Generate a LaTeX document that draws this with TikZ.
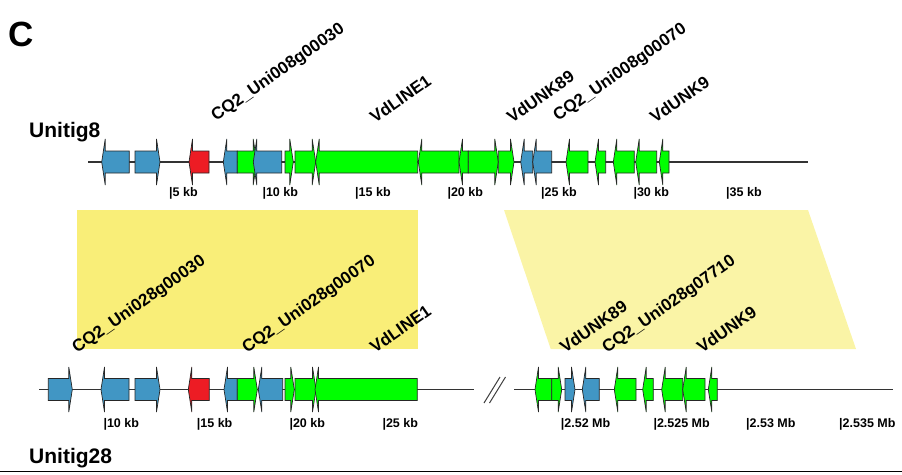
\documentclass[tikz,border=0pt]{standalone}
\usepackage{fontspec}
\setmainfont{Liberation Sans}
\definecolor{geneblue}{RGB}{65,150,196}
\definecolor{genegreen}{RGB}{0,255,0}
\definecolor{genered}{RGB}{237,28,36}
\definecolor{synteny}{RGB}{249,238,120}
\definecolor{syntenylight}{RGB}{250,244,166}
\tikzset{
    gene/.style={draw=black!85, line width=0.7pt},
    track/.style={draw=black!80, line width=1.3pt},
    genelbl/.style={font=\fontsize{17}{17}\selectfont\bfseries, rotate=35, anchor=base west, inner sep=0pt},
    kblbl/.style={font=\fontsize{12.5}{12.5}\selectfont\bfseries, anchor=base west, inner sep=0pt},
    contig/.style={font=\fontsize{21}{21}\selectfont\bfseries, anchor=base west, inner sep=0pt}
}
\begin{document}
\begin{tikzpicture}[x=1pt, y=-1pt]
    \useasboundingbox (0,0) rectangle (902,474);
    \fill[synteny] (77,210) rectangle (418,349);
    \fill[syntenylight] (504,210) -- (808,210) -- (856,349) -- (550.7,349) -- cycle;

    \node[font=\fontsize{35}{35}\selectfont\bfseries, anchor=base west, inner sep=0pt] (panel) at (8,46.5) {C};
    \node[contig] (unitigA) at (29,137.5) {Unitig8};
    \node[contig] (unitigB) at (29,463.5) {Unitig28};

    \draw[track] (88,162) -- (807.7,162);
    \foreach \t/\p/\col in {129.3/101.7/geneblue, 135/160/geneblue, 209/189/genered, 237.3/223.3/geneblue,
            237.3/256.7/genegreen, 281.7/253.3/geneblue, 285/293.3/genegreen, 295/315.7/genegreen,
            417.7/315.7/genegreen, 459/418.3/genegreen, 468.3/459/genegreen, 468.3/498.3/genegreen,
            498.3/514/genegreen, 532.7/520.7/geneblue, 551.7/532.7/geneblue, 588/566/genegreen,
            605.7/595/genegreen, 634.3/613.3/genegreen, 656.7/635.7/genegreen, 669/659.3/genegreen}{
        \pgfmathsetmacro{\b}{\p+3.5*sign(\t-\p)}
        \filldraw[gene, fill=\col] (\p,162) -- (\b,139) -- (\b,151) -- (\t,151) -- (\t,173) -- (\b,173) -- (\b,185) -- cycle;
    }
    \foreach \x/\k [count=\i] in {169/5, 262.3/10, 355/15, 447.3/20, 541/25, 633.3/30, 726/35}
        \node[kblbl] (tickA\i) at (\x,196.5) {|\k\ kb};

    \draw[track] (39.3,389.5) -- (474.3,389.5);
    \draw[track] (514.3,389.5) -- (893.3,389.5);
    \draw[black!75, line width=1pt] (484,403) -- (500,377) (489.5,403) -- (505.5,377);
    \foreach \t/\p/\col in {48.3/72.3/geneblue, 129/101/geneblue, 135/160/geneblue, 209.3/188.3/genered,
            237.3/224/geneblue, 237.3/257.3/genegreen, 282.7/258.3/geneblue, 285/294.3/genegreen,
            295/316/genegreen, 417.3/315/genegreen, 551.7/535/genegreen, 551.7/561.7/genegreen,
            565/575/geneblue, 599.3/582.3/geneblue, 636/614.3/genegreen, 653.3/642.7/genegreen,
            682.7/661.7/genegreen, 705/682.7/genegreen, 717.3/708.3/genegreen}{
        \pgfmathsetmacro{\b}{\p+3.5*sign(\t-\p)}
        \filldraw[gene, fill=\col] (\p,389.5) -- (\b,367) -- (\b,378.5) -- (\t,378.5) -- (\t,400.5) -- (\b,400.5) -- (\b,412) -- cycle;
    }
    \foreach \x/\k [count=\i] in {103.3/10\ kb, 196.7/15\ kb, 289.3/20\ kb, 382.3/25\ kb,
            560.7/2.52\ Mb, 653.3/2.525\ Mb, 746/2.53\ Mb, 839/2.535\ Mb}
        \node[kblbl] (tickB\i) at (\x,427.5) {|\k};

    \node[genelbl] (lblA1) at (216,122) {CQ2\_Uni008g00030};
    \node[genelbl] (lblA2) at (375,124) {VdLINE1};
    \node[genelbl] (lblA3) at (512,124) {VdUNK89};
    \node[genelbl] (lblA4) at (558,122) {CQ2\_Uni008g00070};
    \node[genelbl] (lblA5) at (655,124) {VdUNK9};

    \node[genelbl] (lblB1) at (77,354) {CQ2\_Uni028g00030};
    \node[genelbl] (lblB2) at (247,354) {CQ2\_Uni028g00070};
    \node[genelbl] (lblB3) at (375,354) {VdLINE1};
    \node[genelbl] (lblB4) at (565,354) {VdUNK89};
    \node[genelbl] (lblB5) at (607,354) {CQ2\_Uni028g07710};
    \node[genelbl] (lblB6) at (702,354) {VdUNK9};

    \draw[black, line width=1.2pt] (0,471.5) -- (902,471.5);
\end{tikzpicture}
\end{document}
